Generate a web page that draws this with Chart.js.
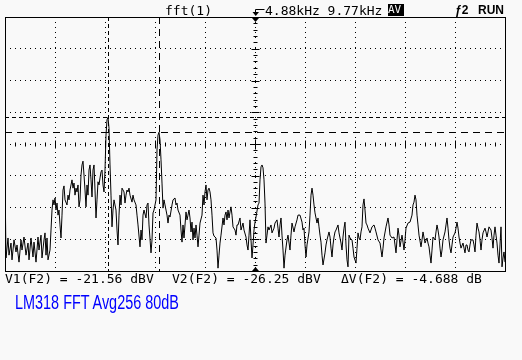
<!DOCTYPE html>
<html>
<head>
  <meta charset="UTF-8">
  <title>LM318 FFT</title>
  <script src="https://cdn.jsdelivr.net/npm/chart.js@4.4.4/dist/chart.umd.min.js"></script>
  <style>
    html, body { margin: 0; padding: 0; background: #f9f9f9; }
    #wrap { position: relative; width: 522px; height: 360px; overflow: hidden; }
    #scope { position: absolute; left: 0; top: 0; }
    .txt { position: absolute; font-family: "DejaVu Sans Mono", monospace; font-size: 13px;
           line-height: 13px; color: #000; white-space: pre; }
    .inv { background: #000; color: #f9f9f9; }
    .bold { font-family: "Liberation Sans", Arial, sans-serif; font-weight: bold; font-size: 12px; }
    #title { position: absolute; left: 15px; top: 292px; font-family: "Liberation Sans", Arial, sans-serif;
             font-size: 19.5px; line-height: 20px; color: #0000ff; white-space: pre;
             transform: scaleX(0.74); transform-origin: 0 0; }
  </style>
</head>
<body>
<div id="wrap">
  <canvas id="scope" width="522" height="360"></canvas>
  <!-- top status line -->
  <div class="txt" style="left:165px; top:3.5px;">fft(1)</div>
  <div class="txt" style="left:265px; top:3.5px;">4.88kHz 9.77kHz</div>
  <div class="txt inv" style="left:388px; top:4px; height:12px; width:16px; font-size:11px; line-height:12px;">AV</div>
  <div class="txt bold" style="left:455px; top:4px;">ƒ2</div>
  <div class="txt bold" style="left:478px; top:4px;">RUN</div>
  <!-- cursor readout -->
  <div class="txt" style="left:5px; top:272px;">V1(F2) = -21.56 dBV</div>
  <div class="txt" style="left:172px; top:272px;">V2(F2) = -26.25 dBV</div>
  <div class="txt" style="left:341px; top:272px;">ΔV(F2) = -4.688 dB</div>
  <div id="title">LM318 FFT Avg256 80dB</div>
</div>

<script>
  // FFT display points (0..500 across the 9.77 kHz span, 19.54 Hz each)
  const bins = [
    0,1,3,4,6,7,9,11,12,14,16,17,19,21,23,24,26,28,29,31,33,34,36,37,39,40,41,42,43,45,
    46,47,48,49,50,51,52,53,54,55,56,57,58,59,60,62,63,64,65,66,67,68,69,70,71,72,73,74,75,76,
    77,78,79,80,81,82,83,84,85,86,87,88,89,90,91,92,93,94,95,96,97,98,99,100,101,102,103,104,105,106,
    107,108,109,110,111,112,113,114,115,116,117,119,120,121,122,123,124,125,127,128,129,131,132,133,135,136,137,138,139,141,
    142,143,144,146,147,148,149,151,152,153,154,155,156,157,158,159,160,161,162,163,164,165,167,168,170,171,172,173,175,176,
    177,178,179,181,182,183,184,185,186,187,188,189,190,191,192,193,194,195,197,198,199,200,201,202,203,204,205,206,207,208,
    209,211,212,213,214,215,216,218,219,220,221,222,223,224,225,226,227,228,230,231,232,233,235,236,238,239,241,242,243,244,
    245,246,247,248,249,250,251,253,254,255,256,257,258,259,260,261,262,263,264,266,267,269,270,272,273,274,275,276,277,278,
    279,280,282,283,285,286,287,289,290,292,293,295,297,298,299,300,301,302,304,305,306,307,308,309,310,312,313,314,315,316,
    317,318,320,321,322,324,325,326,327,328,329,330,331,333,334,336,337,338,339,340,341,342,343,344,345,347,348,349,351,352,
    353,354,355,356,357,358,359,360,361,362,363,365,367,369,370,371,373,375,376,377,378,379,381,383,384,385,387,389,390,391,
    392,393,394,395,397,398,399,400,401,403,405,407,408,409,410,411,412,413,414,416,417,418,420,422,423,424,425,426,427,428,
    430,431,432,433,434,435,436,437,438,440,441,442,443,444,445,446,447,448,450,451,452,453,454,455,456,458,459,460,461,462,
    463,464,465,466,468,469,470,471,472,473,474,475,476,477,478,480,481,482,483,484,486,487,488,489,490,491,492,493,494,495,
    496,497,498,499,500
  ];
  // magnitude, dBV
  const dbv = [
    -40.4,-65.9,-59.6,-65.0,-61.2,-66.5,-60.2,-64.0,-61.8,-67.2,-60.2,-63.4,-59.3,-65.0,-61.2,-66.5,-59.6,-65.6,-60.9,-67.2,-59.3,-63.4,-58.7,-65.9,-60.2,-58.0,-65.0,-59.6,-66.5,-63.4,
    -57.1,-50.8,-47.6,-49.2,-47.0,-50.8,-48.6,-52.4,-50.8,-55.5,-59.6,-52.4,-44.5,-43.2,-47.6,-49.2,-46.1,-47.6,-44.5,-42.9,-41.3,-43.9,-42.3,-46.1,-43.9,-45.1,-42.9,-49.8,-47.6,-39.8,
    -36.6,-35.4,-39.8,-44.5,-49.8,-42.9,-46.1,-38.2,-36.6,-41.3,-46.7,-38.2,-36.6,-44.5,-53.3,-47.6,-41.9,-42.9,-40.7,-38.8,-38.2,-42.9,-45.1,-38.2,-27.2,-22.4,-21.6,-25.0,-36.6,-46.1,
    -56.1,-50.8,-47.6,-49.2,-50.8,-57.1,-61.8,-52.4,-46.1,-49.2,-43.9,-45.1,-48.6,-46.1,-44.5,-45.1,-43.9,-46.1,-48.3,-46.1,-47.6,-49.2,-52.4,-55.5,-62.4,-57.1,-60.2,-52.4,-50.8,-53.3,
    -49.2,-48.6,-55.5,-64.3,-60.2,-51.7,-50.8,-47.6,-31.9,-27.2,-26.3,-28.7,-35.0,-42.3,-50.2,-47.6,-49.2,-50.8,-52.4,-54.9,-52.4,-53.0,-49.2,-47.6,-47.0,-49.2,-48.6,-50.8,-52.4,-57.1,
    -60.9,-55.5,-59.6,-51.4,-53.9,-52.4,-50.8,-53.3,-57.7,-54.6,-60.2,-56.5,-59.6,-55.5,-58.7,-62.4,-58.7,-54.9,-52.4,-46.1,-49.2,-45.1,-42.9,-47.6,-44.5,-43.9,-45.1,-47.6,-52.4,-58.0,
    -59.0,-59.6,-63.4,-69.1,-65.0,-61.2,-58.7,-53.3,-55.5,-52.4,-51.4,-53.9,-50.8,-53.3,-51.4,-49.8,-52.4,-56.1,-57.1,-58.7,-55.5,-55.5,-53.3,-57.1,-54.9,-57.1,-59.3,-61.8,-63.4,-58.7,
    -53.9,-60.2,-65.9,-61.8,-57.1,-54.6,-53.0,-49.2,-48.6,-41.3,-37.2,-36.6,-37.5,-41.3,-48.6,-61.2,-58.7,-56.1,-57.1,-55.5,-58.0,-56.5,-54.9,-53.9,-56.5,-59.3,-55.5,-53.3,-58.7,-63.4,
    -69.1,-65.0,-60.2,-58.7,-63.4,-58.7,-54.9,-57.7,-56.1,-53.9,-52.4,-52.4,-54.6,-57.1,-56.5,-61.8,-65.6,-61.8,-57.7,-52.4,-46.1,-43.9,-46.1,-49.2,-51.7,-54.9,-53.3,-56.1,-58.7,-60.9,
    -65.0,-68.1,-64.3,-61.8,-60.2,-57.7,-59.3,-62.8,-65.6,-61.8,-59.3,-57.7,-57.1,-55.5,-58.0,-61.2,-63.4,-59.3,-56.5,-54.6,-61.8,-66.5,-68.7,-58.7,-59.6,-60.2,-62.8,-65.6,-67.5,-62.8,
    -58.0,-59.6,-60.2,-57.7,-56.1,-49.2,-47.3,-50.8,-54.9,-55.5,-56.5,-58.0,-56.1,-55.5,-56.5,-57.7,-60.2,-61.2,-63.4,-65.6,-62.8,-59.6,-56.1,-53.3,-55.5,-58.7,-59.6,-59.3,-61.8,-64.3,
    -60.2,-56.5,-58.7,-62.4,-58.7,-60.9,-63.4,-60.2,-56.5,-54.9,-54.6,-52.4,-49.2,-48.3,-46.1,-47.6,-52.4,-55.5,-58.7,-62.4,-60.2,-57.7,-61.2,-59.6,-61.2,-62.4,-65.0,-67.5,-63.4,-59.3,
    -60.2,-57.7,-55.5,-57.1,-59.3,-62.8,-65.6,-63.4,-60.2,-57.7,-55.5,-53.3,-56.5,-60.2,-62.8,-64.3,-61.8,-59.3,-58.0,-56.5,-54.6,-56.5,-59.3,-61.2,-62.8,-61.2,-62.8,-64.3,-61.8,-61.8,
    -63.4,-64.0,-61.8,-60.2,-60.2,-61.8,-64.0,-58.7,-54.9,-56.5,-57.7,-60.2,-63.4,-60.2,-58.0,-56.5,-57.7,-59.3,-57.7,-56.1,-57.1,-59.6,-62.8,-58.7,-56.1,-58.7,-61.2,-65.0,-67.5,-61.8,
    -56.1,-68.7,-65.9,-64.0,-67.2
  ];

  // screen: 10 div x 977 Hz, 8 div x 10 dB, reference -30 dBV at center
  const spanBins = [0, 500];
  const dbRange = [-70, 10];
  const centerBin = 250;
  const centerDb = -30;

  // cursors
  const cursorBins = [103, 154];
  const cursorDbv = [-21.56, -26.25];

  const frame = {
    id: 'frame',
    afterDatasetsDraw(chart) {
      const { ctx, chartArea: a, scales: { x, y } } = chart;
      ctx.save();
      ctx.strokeStyle = '#000';
      ctx.fillStyle = '#000';
      ctx.lineWidth = 1;

      // cursor lines
      const dashes = [[4, 3], [7, 5]];
      for (let i = 0; i < 2; i++) {
        ctx.setLineDash(dashes[i]);
        const py = Math.round(y.getPixelForValue(cursorDbv[i])) + 0.5;
        ctx.beginPath(); ctx.moveTo(a.left, py); ctx.lineTo(a.right, py); ctx.stroke();
        const px = Math.round(x.getPixelForValue(cursorBins[i])) + 0.5;
        ctx.beginPath(); ctx.moveTo(px, a.top); ctx.lineTo(px, a.bottom); ctx.stroke();
      }
      ctx.setLineDash([]);

      // center cross with minor ticks
      const cx = Math.round(x.getPixelForValue(centerBin)) + 0.5;
      const cy = Math.round(y.getPixelForValue(centerDb)) + 0.5;
      ctx.beginPath();
      for (let b = spanBins[0] + 10; b < spanBins[1]; b += 10) {
        const px = Math.round(x.getPixelForValue(b)) + 0.5;
        const h = b % 50 === 0 ? 4 : 2;
        ctx.moveTo(px, cy - h); ctx.lineTo(px, cy + h);
      }
      for (let d = dbRange[0] + 2; d < dbRange[1]; d += 2) {
        const py = Math.round(y.getPixelForValue(d)) + 0.5;
        const w = d % 10 === 0 ? 4 : 2;
        ctx.moveTo(cx - w, py); ctx.lineTo(cx + w, py);
      }
      ctx.moveTo(cx - 5, cy); ctx.lineTo(cx + 5, cy);
      ctx.moveTo(cx, cy - 5); ctx.lineTo(cx, cy + 5);
      ctx.stroke();

      // frame
      ctx.strokeRect(a.left + 0.5, a.top + 0.5, a.right - a.left, a.bottom - a.top);

      // center markers on the frame
      ctx.beginPath();
      ctx.moveTo(cx - 3.5, a.top + 1); ctx.lineTo(cx + 3.5, a.top + 1); ctx.lineTo(cx, a.top + 5);
      ctx.closePath(); ctx.fill();
      ctx.beginPath();
      ctx.moveTo(cx - 3.5, a.bottom); ctx.lineTo(cx + 3.5, a.bottom); ctx.lineTo(cx, a.bottom - 4);
      ctx.closePath(); ctx.fill();

      // center frequency marker above the frame
      ctx.beginPath();
      ctx.moveTo(cx + 9, 9.5); ctx.lineTo(cx, 9.5); ctx.lineTo(cx, 14);
      ctx.stroke();
      ctx.beginPath();
      ctx.moveTo(cx - 3, 12); ctx.lineTo(cx + 3.5, 12); ctx.lineTo(cx + 0.25, 16);
      ctx.closePath(); ctx.fill();
      ctx.restore();
    }
  };

  const points = bins.map((b, i) => ({ x: b, y: dbv[i] }));

  new Chart(document.getElementById('scope'), {
    type: 'line',
    data: {
      datasets: [{
        data: points,
        borderColor: '#000',
        borderWidth: 1,
        pointRadius: 0,
        tension: 0,
        fill: false
      }]
    },
    options: {
      responsive: false,
      animation: false,
      events: [],
      layout: { padding: { left: 5, top: 17, right: 17, bottom: 89 } },
      plugins: { legend: { display: false }, tooltip: { enabled: false } },
      scales: {
        x: {
          type: 'linear', min: spanBins[0], max: spanBins[1],
          ticks: { display: false, stepSize: 50 },
          grid: { drawTicks: false, color: '#000', lineWidth: 1 },
          border: { display: false, dash: [1, 4] }
        },
        y: {
          type: 'linear', min: dbRange[0], max: dbRange[1],
          ticks: { display: false, stepSize: 10 },
          grid: { drawTicks: false, color: '#000', lineWidth: 1 },
          border: { display: false, dash: [1, 4] }
        }
      }
    },
    plugins: [frame]
  });
</script>
</body>
</html>
